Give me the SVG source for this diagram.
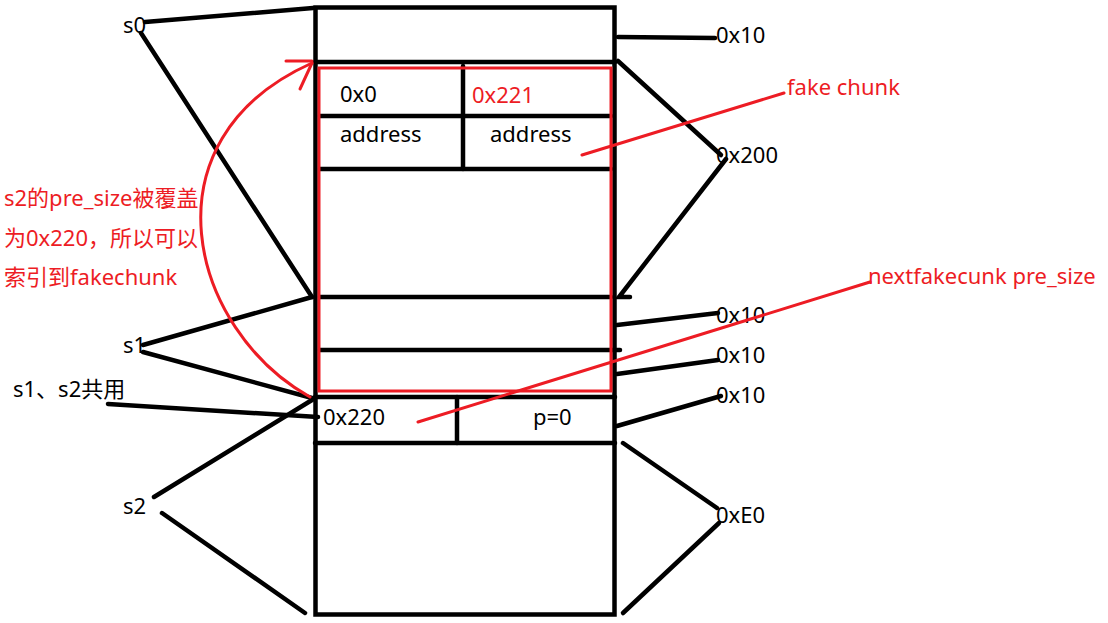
<svg xmlns="http://www.w3.org/2000/svg" width="1108" height="623" viewBox="0 0 1108 623">
<style>
text{font-family:"Noto Sans","Noto Sans CJK SC",sans-serif;font-size:22px;fill:#000}
.r{fill:#ED1C24}
.bl{stroke:#000;stroke-width:4.5;fill:none;stroke-linecap:round}
.rl{stroke:#ED1C24;stroke-width:3;fill:none;stroke-linecap:round}
</style>
<rect width="1108" height="623" fill="#fff"/>
<g id="memory">
<rect x="315.5" y="7.5" width="299" height="607" fill="none" stroke="#000" stroke-width="4.5"/>
<line x1="315" y1="62" x2="615" y2="62" class="bl"/>
<line x1="320" y1="116" x2="611" y2="116" class="bl"/>
<line x1="320" y1="169" x2="611" y2="169" class="bl"/>
<line x1="463" y1="66" x2="463" y2="169" class="bl"/>
<line x1="320" y1="297" x2="611" y2="297" class="bl"/>
<line x1="320" y1="350" x2="620" y2="350" class="bl"/>
<line x1="315" y1="397" x2="615" y2="397" class="bl"/>
<line x1="457" y1="397" x2="457" y2="443" class="bl"/>
<line x1="315" y1="443" x2="615" y2="443" class="bl"/>
<rect x="319" y="68" width="292" height="323" fill="none" stroke="#ED1C24" stroke-width="3"/>
</g>
<g id="cells">
<text x="340" y="102">0x0</text>
<text x="472" y="103" class="r">0x221</text>
<text x="340" y="142">address</text>
<text x="490" y="142">address</text>
<text x="323" y="425">0x220</text>
<text x="533" y="425">p=0</text>
</g>
<g id="left-labels">
<text x="123" y="33">s0</text>
<text x="123" y="353">s1</text>
<text x="13" y="397">s1、s2共用</text>
<text x="123" y="514">s2</text>
</g>
<g id="right-labels">
<text x="716" y="43">0x10</text>
<text x="716" y="163">0x200</text>
<text x="716" y="323">0x10</text>
<text x="716" y="363">0x10</text>
<text x="716" y="403">0x10</text>
<text x="716" y="523">0xE0</text>
</g>
<g id="annotations">
<text x="787" y="95" class="r">fake chunk</text>
<text x="868" y="284" class="r">nextfakecunk pre_size</text>
<text x="4" y="206" class="r">s2的pre_size被覆盖</text>
<text x="4" y="246" class="r">为0x220，所以可以</text>
<text x="4" y="285" class="r">索引到fakechunk</text>
</g>
<g id="connectors">
<line x1="145" y1="22" x2="313" y2="8" class="bl"/>
<line x1="141" y1="33" x2="312" y2="297" class="bl"/>
<line x1="143" y1="345" x2="312" y2="297" class="bl"/>
<line x1="143" y1="352" x2="312" y2="398" class="bl"/>
<line x1="108" y1="404" x2="318" y2="417" class="bl"/>
<line x1="154" y1="497" x2="312" y2="400" class="bl"/>
<line x1="162" y1="513" x2="305" y2="613" class="bl"/>
<line x1="618" y1="37" x2="715" y2="38" class="bl"/>
<line x1="618" y1="61" x2="721" y2="155" class="bl"/>
<polyline points="726,159 619,297 630,297" class="bl"/>
<line x1="617" y1="325" x2="718" y2="313" class="bl"/>
<line x1="617" y1="374" x2="718" y2="360" class="bl"/>
<line x1="617" y1="426" x2="721" y2="396" class="bl"/>
<line x1="623" y1="443" x2="717" y2="508" class="bl"/>
<line x1="719" y1="523" x2="623" y2="613" class="bl"/>
<line x1="784" y1="93" x2="582" y2="155" class="rl"/>
<line x1="870" y1="282" x2="418" y2="422" class="rl"/>
<path d="M310,397 C190,330 140,140 312,63" class="rl" stroke-width="2.5"/>
<line x1="286" y1="61" x2="312" y2="61" class="rl"/>
<line x1="300" y1="89" x2="312" y2="63" class="rl"/>
</g>
</svg>
